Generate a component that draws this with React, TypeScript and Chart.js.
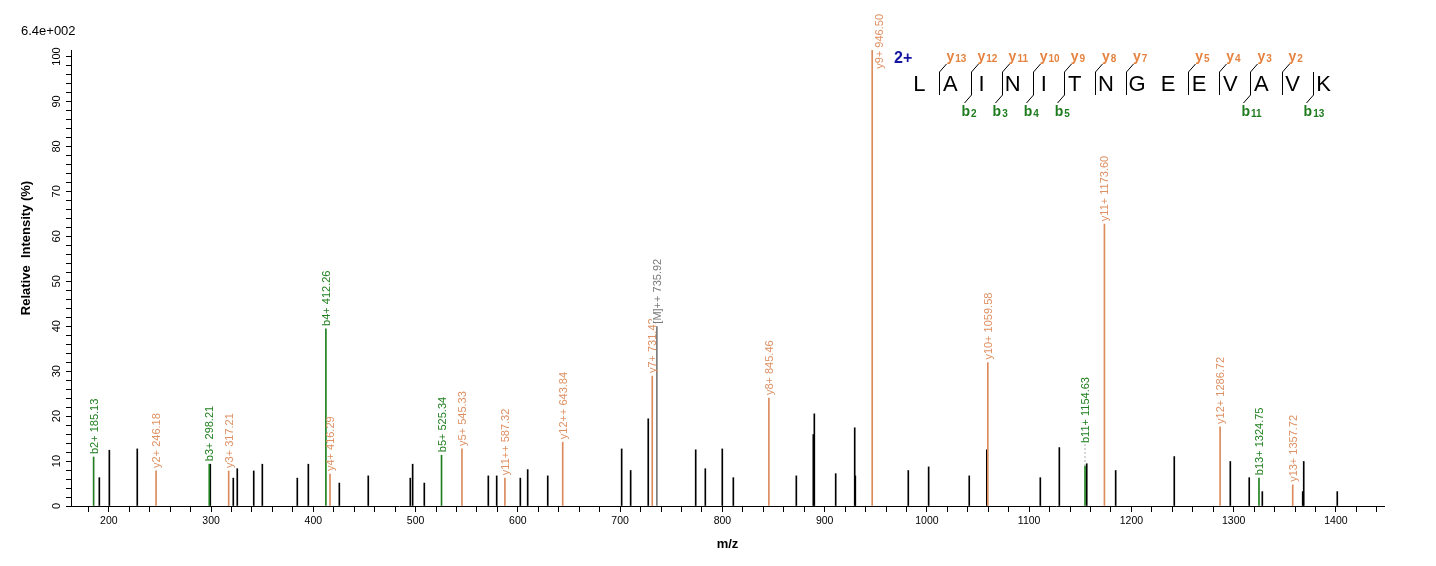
import { useEffect, useRef } from "react"
import { Chart, registerables, type Plugin } from "chart.js"

Chart.register(...registerables)

const FONT = "'Liberation Sans', Arial, sans-serif"

// peptide sequence and fragment breaks (break i sits between residue i-1 and i)
const sequence = ["L", "A", "I", "N", "I", "T", "N", "G", "E", "E", "V", "A", "V", "K"]
const yBreaks = [1, 2, 3, 4, 5, 6, 7, 9, 10, 11, 12]
const bBreaks = [2, 3, 4, 5, 11, 13]

// annotated y ions
const yIonLabels = [
  "y2+ 246.18", "y3+ 317.21", "y4+ 416.29", "y5+ 545.33", "y11++ 587.32", "y12++ 643.84",
  "y7+ 731.42", "y8+ 845.46", "y9+ 946.50", "y10+ 1059.58", "y11+ 1173.60", "y12+ 1286.72", "y13+ 1357.72",
]
const yIonMz = [246.18, 317.21, 416.29, 545.33, 587.32, 643.84, 731.42, 845.46, 946.5, 1059.58, 1173.6, 1286.72, 1357.72]
const yIonIntensity = [7.8, 7.8, 7.1, 12.7, 6.2, 14.2, 28.9, 24.0, 101.45, 31.9, 62.7, 17.6, 4.7]

// annotated b ions
const bIonLabels = ["b2+ 185.13", "b3+ 298.21", "b4+ 412.26", "b5+ 525.34", "b11+ 1154.63", "b13+ 1324.75"]
const bIonMz = [185.13, 298.21, 412.26, 525.34, 1154.63, 1324.75]
const bIonIntensity = [10.9, 9.3, 39.4, 11.3, 8.9, 6.2]

// precursor
const precursorLabels = ["[M]++ 735.92"]
const precursorMz = [735.92]
const precursorIntensity = [39.9]

// unassigned peaks
const otherMz = [
  190.7, 200.5, 227.8, 299.2, 321.7, 325.6, 341.7, 350.1, 384.3, 395.1, 425.4, 453.7, 494.8, 497.1, 508.5,
  571.1, 579.3, 602.4, 609.6, 629.2, 701.5, 710.3, 727.5, 773.9, 783.3, 799.9, 810.7, 872.3, 888.9, 889.9,
  910.8, 929.4, 930.0, 981.8, 1001.7, 1041.4, 1058.6, 1110.9, 1129.5, 1156.3, 1184.6, 1241.9, 1296.7,
  1315.2, 1328.0, 1367.5, 1368.5, 1401.3,
]
const otherIntensity = [
  6.3, 12.4, 12.7, 9.3, 6.2, 8.3, 7.8, 9.3, 6.2, 9.3, 5.1, 6.7, 6.2, 9.3, 5.1,
  6.7, 6.7, 6.2, 8.1, 6.7, 12.7, 7.9, 19.4, 12.5, 8.3, 12.7, 6.3, 6.7, 15.9, 20.5,
  7.2, 17.4, 6.7, 7.9, 8.7, 6.7, 12.5, 6.3, 13.0, 9.4, 7.9, 11.0, 9.9,
  6.3, 3.2, 3.2, 9.9, 3.2,
]

const maxIntensityLabel = "6.4e+002"

const ORANGE = "#DB8B5C"
const GREEN = "#1F7F1F"
const GRAY = "#7A7A7A"

const toPoints = (xs: number[], ys: number[]) => xs.map((x, i) => ({ x, y: ys[i] }))

function drawPeakLabels(chart: Chart, labels: string[], mz: number[], intensity: number[], color: string, boxed = false) {
  const { ctx } = chart
  const xs = chart.scales.x
  const ys = chart.scales.y
  ctx.save()
  ctx.font = `11px ${FONT}`
  ctx.textBaseline = "middle"
  ctx.textAlign = "left"
  labels.forEach((label, i) => {
    let px = xs.getPixelForValue(mz[i])
    const py = ys.getPixelForValue(intensity[i])
    const lift = label.startsWith("b11") ? 20 : 0
    let bottom = py - 3 - lift
    const w = ctx.measureText(label).width
    if (bottom - w < 14) {
      bottom = 14 + w
      px += 7
    }
    if (lift) {
      ctx.save()
      ctx.strokeStyle = "#B0B0B0"
      ctx.setLineDash([2, 2])
      ctx.beginPath()
      ctx.moveTo(px, py)
      ctx.lineTo(px, bottom + 1)
      ctx.stroke()
      ctx.restore()
    }
    ctx.save()
    ctx.translate(px + 1, bottom)
    ctx.rotate(-Math.PI / 2)
    if (boxed) {
      ctx.fillStyle = "#fff"
      ctx.fillRect(0, -6, w + 2, 12)
    }
    ctx.fillStyle = color
    ctx.fillText(label, 0, 0)
    ctx.restore()
  })
  ctx.restore()
}

const annotationPlugin: Plugin<"bar"> = {
  id: "spectrumAnnotations",
  afterDatasetsDraw(chart) {
    const c = chart as unknown as Chart
    drawPeakLabels(c, bIonLabels, bIonMz, bIonIntensity, GREEN)
    drawPeakLabels(c, yIonLabels, yIonMz, yIonIntensity, "#DE9063")
    drawPeakLabels(c, precursorLabels, precursorMz, precursorIntensity, GRAY, true)
  },
  afterDraw(chart) {
    const { ctx } = chart
    ctx.save()
    // max intensity
    ctx.fillStyle = "#000"
    ctx.font = `13px ${FONT}`
    ctx.textBaseline = "middle"
    ctx.textAlign = "left"
    ctx.fillText(maxIntensityLabel, 21, 31)

    // y axis title
    ctx.save()
    ctx.translate(26, 248)
    ctx.rotate(-Math.PI / 2)
    ctx.textAlign = "center"
    ctx.font = `bold 13px ${FONT}`
    ctx.fillText("Relative  Intensity (%)", 0, 0)
    ctx.restore()

    // peptide
    const startX = 919.3
    const step = 31.1
    ctx.font = `bold 16px ${FONT}`
    ctx.fillStyle = "#1414A0"
    ctx.textBaseline = "alphabetic"
    ctx.fillText("2+", 894, 63)

    ctx.font = `22px ${FONT}`
    ctx.fillStyle = "#000"
    ctx.textAlign = "center"
    sequence.forEach((aa, i) => ctx.fillText(aa, startX + step * i, 91))

    ctx.strokeStyle = "#000"
    ctx.lineWidth = 1
    const breaks = Array.from(new Set([...yBreaks, ...bBreaks])).sort((a, b) => a - b)
    breaks.forEach((b) => {
      const sx = Math.round(startX + step * b - 11) + 0.5
      ctx.beginPath()
      ctx.moveTo(sx, 72)
      ctx.lineTo(sx, 95)
      if (yBreaks.includes(b)) {
        ctx.moveTo(sx, 72)
        ctx.lineTo(sx + 7, 64)
      }
      if (bBreaks.includes(b)) {
        ctx.moveTo(sx, 95)
        ctx.lineTo(sx - 7, 103)
      }
      ctx.stroke()
    })

    ctx.textAlign = "left"
    yBreaks.forEach((b) => {
      const sx = startX + step * b - 11 + 7
      ctx.fillStyle = "#E5823F"
      ctx.font = `bold 14px ${FONT}`
      ctx.fillText("y", sx, 61)
      const w = ctx.measureText("y").width
      ctx.font = `bold 10px ${FONT}`
      ctx.fillText(String(sequence.length - b), sx + w + 1, 62)
    })
    bBreaks.forEach((b) => {
      const sx = startX + step * b - 11 - 9
      ctx.fillStyle = "#1E7B1E"
      ctx.font = `bold 14px ${FONT}`
      ctx.fillText("b", sx, 116)
      const w = ctx.measureText("b").width
      ctx.font = `bold 10px ${FONT}`
      ctx.fillText(String(b), sx + w + 1, 117)
    })
    ctx.restore()
  },
}

export default function App() {
  const canvasRef = useRef<HTMLCanvasElement>(null)
  const chartRef = useRef<Chart | null>(null)

  useEffect(() => {
    document.body.style.margin = "0"
    if (!canvasRef.current) return
    if (chartRef.current) chartRef.current.destroy()

    const axisGrid = {
      display: true,
      drawOnChartArea: false,
      drawTicks: true,
      tickColor: "#000",
      tickWidth: 1,
      offset: false,
    }

    chartRef.current = new Chart(canvasRef.current, {
      type: "bar",
      data: {
        datasets: [
          { label: "b", data: toPoints(bIonMz, bIonIntensity), backgroundColor: GREEN, barThickness: 1, grouped: false, borderWidth: 0 },
          { label: "y", data: toPoints(yIonMz, yIonIntensity), backgroundColor: ORANGE, barThickness: 1, grouped: false, borderWidth: 0 },
          { label: "M", data: toPoints(precursorMz, precursorIntensity), backgroundColor: GRAY, barThickness: 1, grouped: false, borderWidth: 0 },
          { label: "other", data: toPoints(otherMz, otherIntensity), backgroundColor: "#000", barThickness: 1, grouped: false, borderWidth: 0 },
        ],
      },
      options: {
        animation: false,
        responsive: false,
        devicePixelRatio: 1,
        layout: { padding: { top: 50, right: 52, left: 0, bottom: 0 } },
        plugins: { legend: { display: false }, tooltip: { enabled: false } },
        scales: {
          x: {
            type: "linear",
            min: 163,
            max: 1447,
            offset: false,
            grid: { ...axisGrid, tickLength: 6 },
            border: { display: true, color: "#000", width: 1 },
            ticks: {
              stepSize: 20,
              includeBounds: false,
              autoSkip: false,
              maxRotation: 0,
              minRotation: 0,
              padding: 3,
              color: "#000",
              font: { family: FONT, size: 10.5 },
              callback: (v) => (Number(v) % 100 === 0 ? String(v) : ""),
            },
            title: {
              display: true,
              text: "m/z",
              color: "#000",
              font: { family: FONT, size: 13, weight: "bold" },
              padding: { top: 0, bottom: 14 },
            },
            afterFit: (scale) => {
              scale.height = 60
            },
          },
          y: {
            min: 0,
            max: 101.45,
            grid: { ...axisGrid, tickLength: 5 },
            border: { display: true, color: "#000", width: 1 },
            ticks: {
              stepSize: 2,
              includeBounds: false,
              autoSkip: false,
              minRotation: 90,
              maxRotation: 90,
              crossAlign: "center",
              padding: 0,
              color: "#000",
              font: { family: FONT, size: 11 },
              callback: (v) => (Number(v) % 10 === 0 ? String(v) : ""),
            },
            afterFit: (scale) => {
              scale.width = 71
            },
          },
        },
      },
      plugins: [annotationPlugin as unknown as Plugin],
    })

    return () => {
      if (chartRef.current) {
        chartRef.current.destroy()
        chartRef.current = null
      }
    }
  }, [])

  return <canvas ref={canvasRef} width={1436} height={566} />
}
